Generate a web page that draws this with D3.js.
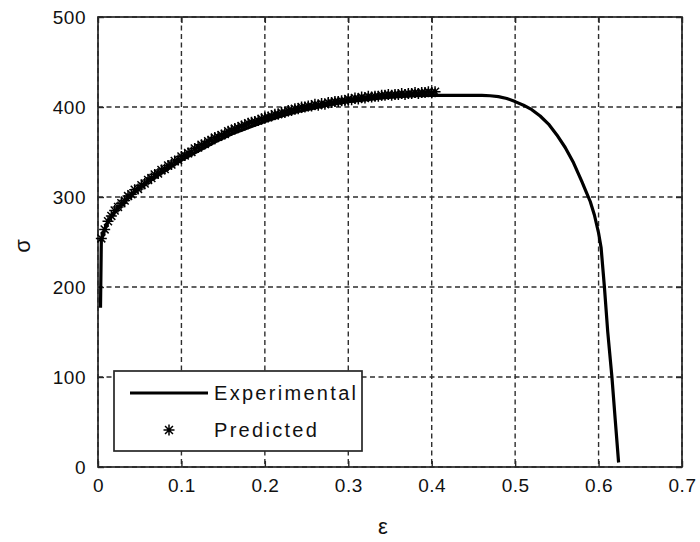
<!DOCTYPE html>
<html><head><meta charset="utf-8">
<script src="https://cdn.jsdelivr.net/npm/d3@7"></script>
<style>html,body{margin:0;padding:0;background:#fff;}svg{display:block;}</style>
</head><body>
<svg id="c" width="700" height="542"></svg>
<script>
const xTicks = [0,0.1,0.2,0.3,0.4,0.5,0.6,0.7];
const yTicks = [0,100,200,300,400,500];
const xTickLabels = ["0","0.1","0.2","0.3","0.4","0.5","0.6","0.7"];
const yTickLabels = ["0","100","200","300","400","500"];
const expEps = [0.003,0.004,0.008,0.012,0.02,0.03,0.04,0.05,0.06,0.07,0.08,0.09,0.1,0.12,0.14,0.16,0.18,0.2,0.22,0.24,0.26,0.28,0.3,0.32,0.34,0.36,0.38,0.4,0.42,0.44,0.46,0.47,0.48,0.49,0.5,0.51,0.52,0.53,0.54,0.55,0.56,0.57,0.58,0.585,0.59,0.595,0.6,0.603,0.607,0.611,0.616,0.62,0.624];
const expSig = [177,252,264,273,283,293,302,310,317,323,329,335,341,351,361,370,377,384,390,395,399,403,406,408,410,411.5,412.5,413,413,413,413,412.5,411.5,409.5,406,402,397,390,381,369,355,338,317,306,295,280,260,244,200,150,100,52,5];
const predEps = [0.004,0.008,0.012,0.016,0.02,0.024,0.028,0.032,0.036,0.04,0.044,0.048,0.052,0.056,0.06,0.064,0.068,0.072,0.076,0.08,0.084,0.088,0.092,0.096,0.1,0.104,0.108,0.112,0.116,0.12,0.124,0.128,0.132,0.136,0.14,0.144,0.148,0.152,0.156,0.16,0.164,0.168,0.172,0.176,0.18,0.184,0.188,0.192,0.196,0.2,0.204,0.208,0.212,0.216,0.22,0.224,0.228,0.232,0.236,0.24,0.244,0.248,0.252,0.256,0.26,0.264,0.268,0.272,0.276,0.28,0.284,0.288,0.292,0.296,0.3,0.304,0.308,0.312,0.316,0.32,0.324,0.328,0.332,0.336,0.34,0.344,0.348,0.352,0.356,0.36,0.364,0.368,0.372,0.376,0.38,0.384,0.388,0.392,0.396,0.4,0.404];
const predSig = [254,264,273,279,285,289,293,296,301,303,308,309,313,315,319,321,325,326,330,331,335,336,340,341,345,346,349,350,354,355,358,359,362,363,366,367,369,370,373,374,376,377,379,380,382,383,384,385,387,388,389,390,392,392,394,394,396,396,398,398,400,400,401,401,403,402,404,403,405,405,406,406,407,407,409,408,410,409,411,410,412,411,412,412,413,413,414,413,414,414,415,414,415,415,416,415,416,416,417,416,417];
const legendLabels = ["Experimental","Predicted"];
const xLabel = "ε", yLabel = "σ";

const svg = d3.select("#c");
const L = 98, R = 682, T = 17, B = 467;
const x = d3.scaleLinear().domain([0,0.7]).range([L,R]);
const y = d3.scaleLinear().domain([0,500]).range([B,T]);
const font = "Arial, 'Liberation Sans', sans-serif";
const gridCol = "#2e2e2e";

// grid
const g = svg.append("g");
g.selectAll(".gx").data(xTicks).join("line")
  .attr("x1", d=>x(d)).attr("x2", d=>x(d)).attr("y1", T).attr("y2", B)
  .attr("stroke", gridCol).attr("stroke-width", 1.4).attr("stroke-dasharray", "5,3.5");
g.selectAll(".gy").data(yTicks).join("line")
  .attr("y1", d=>y(d)).attr("y2", d=>y(d)).attr("x1", L).attr("x2", R)
  .attr("stroke", gridCol).attr("stroke-width", 1.4).attr("stroke-dasharray", "5,3.5");

// axes with inward ticks
const tk = 6;
const axB = d3.axisBottom(x).tickValues(xTicks).tickFormat((d,i)=>xTickLabels[i]).tickSizeInner(-tk).tickSizeOuter(0).tickPadding(12);
const axL = d3.axisLeft(y).tickValues(yTicks).tickFormat((d,i)=>yTickLabels[i]).tickSizeInner(-tk).tickSizeOuter(0).tickPadding(12);
const axT = d3.axisTop(x).tickValues(xTicks).tickFormat("").tickSizeInner(-tk).tickSizeOuter(0);
const axR = d3.axisRight(y).tickValues(yTicks).tickFormat("").tickSizeInner(-tk).tickSizeOuter(0);
function style(sel){
  sel.select(".domain").remove();
  sel.selectAll("line").attr("stroke","#262626").attr("stroke-width",1.4);
  sel.selectAll("text").attr("font-family",font).attr("font-size","19px").attr("letter-spacing","0.5px").attr("fill","#111");
}
svg.append("g").attr("transform",`translate(0,${B})`).call(axB).call(style);
svg.append("g").attr("transform",`translate(${L},0)`).call(axL).call(style);
svg.append("g").attr("transform",`translate(0,${T})`).call(axT).call(style);
svg.append("g").attr("transform",`translate(${R},0)`).call(axR).call(style);
svg.append("rect").attr("x",L).attr("y",T).attr("width",R-L).attr("height",B-T)
  .attr("fill","none").attr("stroke","#262626").attr("stroke-width",1.7);

// experimental line
const line = d3.line().x(d=>x(d[0])).y(d=>y(d[1]));
svg.append("path").datum(expEps.map((e,i)=>[e,expSig[i]]))
  .attr("d", line).attr("fill","none").attr("stroke","#000").attr("stroke-width",3.2).attr("stroke-linejoin","round");

// predicted asterisks
const s = 5.5;
const star = `M${-s},0L${s},0M0,${-s}L0,${s}M${-s*0.72},${-s*0.72}L${s*0.72},${s*0.72}M${-s*0.72},${s*0.72}L${s*0.72},${-s*0.72}`;
svg.append("g").selectAll("path").data(predEps.map((e,i)=>[e,predSig[i]])).join("path")
  .attr("transform", d=>`translate(${x(d[0])},${y(d[1])})`)
  .attr("d", star).attr("stroke","#000").attr("stroke-width",1.5).attr("fill","none");

// legend
const lg = svg.append("g");
lg.append("rect").attr("x",114).attr("y",371).attr("width",248).attr("height",80)
  .attr("fill","#fff").attr("stroke","#262626").attr("stroke-width",1.7);
lg.append("line").attr("x1",130).attr("x2",208).attr("y1",393).attr("y2",393)
  .attr("stroke","#000").attr("stroke-width",3.2);
lg.append("path").attr("transform","translate(169,430)").attr("d",star)
  .attr("stroke","#000").attr("stroke-width",1.5).attr("fill","none");
lg.selectAll("text").data(legendLabels).join("text")
  .attr("x",214).attr("y",(d,i)=>400+i*37).text(d=>d)
  .attr("font-family",font).attr("font-size","20px").attr("letter-spacing","2.3px").attr("fill","#111");

// axis labels
svg.append("text").attr("x",383).attr("y",534).attr("text-anchor","middle")
  .attr("font-family",font).attr("font-size","22px").attr("fill","#111").text(xLabel);
svg.append("text").attr("transform","translate(30,246) rotate(-90)").attr("text-anchor","middle")
  .attr("font-family",font).attr("font-size","22px").attr("fill","#111").text(yLabel);
</script>
</body></html>
